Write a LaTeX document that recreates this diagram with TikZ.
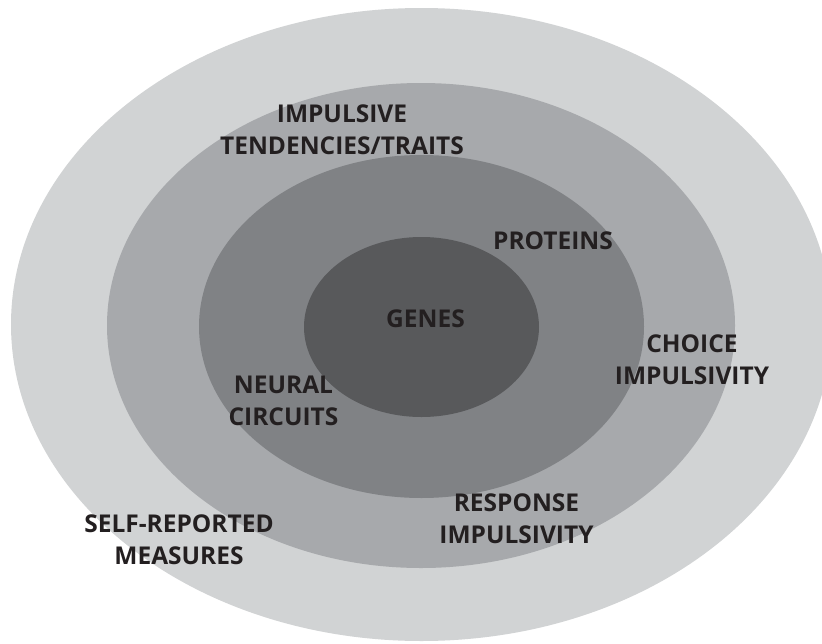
\documentclass[tikz,border=0pt]{standalone}
\usepackage{fontspec}
\setmainfont{Open Sans}
\definecolor{gA}{HTML}{D1D3D4}
\definecolor{gB}{HTML}{A7A9AC}
\definecolor{gC}{HTML}{808285}
\definecolor{gD}{HTML}{58595B}
\definecolor{txt}{HTML}{231F20}
\begin{document}
\begin{tikzpicture}[x=1pt,y=-1pt,
  lbl/.style={font=\bfseries\fontsize{24.5}{32}\selectfont, text=txt, align=center, inner sep=0pt, anchor=center}]
\useasboundingbox (0,0) rectangle (822,643);
\clip (0,0) rectangle (822,643);
\fill[white] (0,0) rectangle (822,643);
\fill[gA] (421.5,324.5) ellipse [x radius=410.5, y radius=316.5];
\fill[gB] (421,325.5) ellipse [x radius=314, y radius=242.5];
\fill[gC] (421.5,326.5) ellipse [x radius=222.5, y radius=171.5];
\fill[gD] (421.5,327) ellipse [x radius=117.5, y radius=90];
\node[lbl] (traits) at (342,130) {IMPULSIVE\\TENDENCIES/TRAITS};
\node[lbl] (proteins) at (553,241) {PROTEINS};
\node[lbl] (genes) at (425.5,319) {GENES};
\node[lbl] (choice) at (692,360) {CHOICE\\IMPULSIVITY};
\node[lbl] (neural) at (283.5,401) {NEURAL\\CIRCUITS};
\node[lbl] (response) at (516.5,518.5) {RESPONSE\\IMPULSIVITY};
\node[lbl] (self) at (179,539.5) {SELF-REPORTED\\MEASURES};
\end{tikzpicture}
\end{document}
